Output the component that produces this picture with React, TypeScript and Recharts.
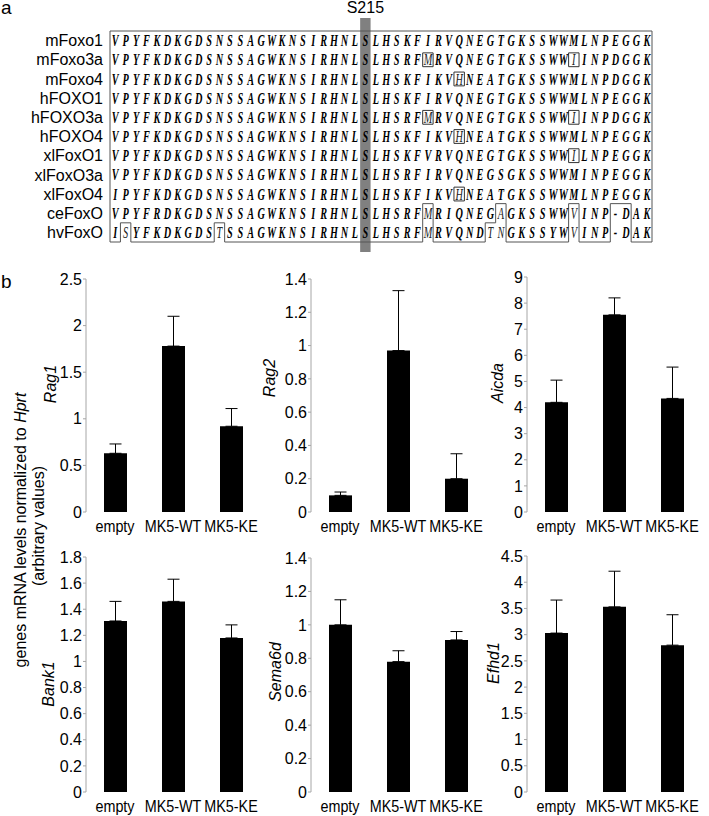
import React from 'react';
import {
  BarChart, Bar, XAxis, YAxis, ErrorBar, ScatterChart, Scatter,
  ReferenceArea, ReferenceLine, Label,
} from 'recharts';

const FONT = "'Liberation Sans', Arial, sans-serif";
const SERIF = "'Liberation Serif', 'Times New Roman', serif";

// ---------- Panel a: alignment ----------
const speciesNames = ['mFoxo1', 'mFoxo3a', 'mFoxo4', 'hFOXO1', 'hFOXO3a', 'hFOXO4', 'xlFoxO1', 'xlFoxO3a', 'xlFoxO4', 'ceFoxO', 'hvFoxO'];
const sequences = [
  'VPYFKDKGDSNSSAGWKNSIRHNLSLHSKFIRVQNEGTGKSSWWMLNPEGGK',
  'VPYFKDKGDSNSSAGWKNSIRHNLSLHSRFMRVQNEGTGKSSWWIINPDGGK',
  'VPYFKDKGDSNSSAGWKNSIRHNLSLHSKFIKVHNEATGKSSWWMLNPDGGK',
  'VPYFKDKGDSNSSAGWKNSIRHNLSLHSKFIRVQNEGTGKSSWWMLNPEGGK',
  'VPYFKDKGDSNSSAGWKNSIRHNLSLHSRFMRVQNEGTGKSSWWIINPDGGK',
  'VPYFKDKGDSNSSAGWKNSIRHNLSLHSKFIKVHNEATGKSSWWMLNPEGGK',
  'VPYFKDKGDSNSSAGWKNSIRHNLSLHSKFVRVQNEGTGKSSWWILNPEGGK',
  'VPYFKDKGDSNSSAGWKNSIRHNLSLHSRFIRVQNEGSGKSSWWMINPEGGK',
  'IPYFKDKGDSNSSAGWKNSIRHNLSLHSKFIKVHNEATGKSSWWMLNPEGGK',
  'VPYFRDKGDSNSSAGWKNSIRHNLSLHSRFMRIQNEGAGKSSWWVINP-DAK',
  'ISYFKDKGDSTSSAGWKNSIRHNLSLHSRFMRVQNDTNGKSSYWVINP-DAK',
];
// [row, column] (1-based) of boxed divergent residues
const boxedCells = [[2, 31], [2, 45], [3, 34], [5, 31], [5, 45], [6, 34], [7, 45], [9, 34]];
// residues cut out of the conserved block (bottom rows)
const excludedCells = [
  [10, 31], [10, 38], [10, 45], [10, 49], [10, 50],
  [11, 2], [11, 11], [11, 31], [11, 37], [11, 38], [11, 45], [11, 49], [11, 50],
];
const boldExcluded = [[10, 49], [10, 50], [11, 49], [11, 50]];
const highlightColumn = 25;
const highlightLabel = 'S215';

const ROWS = speciesNames.length;
const COLS = sequences[0].length;

const key = (r: number, c: number) => `${r},${c}`;
const lightSet = new Set<string>([
  ...boxedCells.map(([r, c]) => key(r, c)),
  ...excludedCells.map(([r, c]) => key(r, c)),
]);
boldExcluded.forEach(([r, c]) => lightSet.delete(key(r, c)));

const letterData = sequences.flatMap((seq, ri) =>
  seq.split('').map((ch, ci) => ({ x: ci + 1, y: ri + 1, ch, light: lightSet.has(key(ri + 1, ci + 1)) }))
);

function buildOutline() {
  const ex = new Set(excludedCells.map(([r, c]) => key(r, c)));
  const inside = (r: number, c: number) => r >= 1 && r <= ROWS && c >= 1 && c <= COLS && !ex.has(key(r, c));
  const h: [number, number, number][] = [];
  const v: [number, number, number][] = [];
  for (let r = 1; r <= ROWS; r++) {
    for (let c = 1; c <= COLS; c++) {
      if (!inside(r, c)) continue;
      if (!inside(r - 1, c)) h.push([r - 0.5, c - 0.5, c + 0.5]);
      if (!inside(r + 1, c)) h.push([r + 0.5, c - 0.5, c + 0.5]);
      if (!inside(r, c - 1)) v.push([c - 0.5, r - 0.5, r + 0.5]);
      if (!inside(r, c + 1)) v.push([c + 0.5, r - 0.5, r + 0.5]);
    }
  }
  const merge = (arr: [number, number, number][]) => {
    arr.sort((a, b) => a[0] - b[0] || a[1] - b[1]);
    const out: [number, number, number][] = [];
    arr.forEach((s) => {
      const last = out[out.length - 1];
      if (last && last[0] === s[0] && Math.abs(last[2] - s[1]) < 1e-9) last[2] = s[2];
      else out.push([s[0], s[1], s[2]]);
    });
    return out;
  };
  const segs: { x: number; y: number }[][] = [];
  merge(h).forEach(([y, a, b]) => segs.push([{ x: a, y }, { x: b, y }]));
  merge(v).forEach(([x, a, b]) => segs.push([{ x, y: a }, { x, y: b }]));
  return segs;
}
const outlineSegments = buildOutline();

const Letter = (props: any) => {
  const { cx, cy, payload } = props;
  if (cx == null || cy == null) return null;
  return (
    <text
      transform={`translate(${cx},${cy}) scale(0.64,1)`}
      textAnchor="middle"
      dy="0.35em"
      fontFamily={SERIF}
      fontStyle="italic"
      fontWeight={payload.light ? 400 : 700}
      fontSize={16}
      fill={payload.light ? '#222' : '#000'}
    >
      {payload.ch}
    </text>
  );
};

const S215Label = (props: any) => {
  const vb = props.viewBox || {};
  return (
    <text x={vb.x + vb.width / 2} y={vb.y - 5} textAnchor="middle" fontFamily={FONT} fontSize={16} fill="#000">
      {highlightLabel}
    </text>
  );
};

function Alignment() {
  return (
    <div style={{ position: 'absolute', left: 0, top: 0 }}>
      <ScatterChart width={709} height={262} margin={{ top: 31, right: 57, bottom: 20, left: 0 }}>
        <XAxis type="number" dataKey="x" domain={[0.5, COLS + 0.5]} hide />
        <YAxis
          type="number" dataKey="y" domain={[0.5, ROWS + 0.5]} reversed width={110}
          ticks={speciesNames.map((_, i) => i + 1)}
          tickFormatter={(v: number) => speciesNames[v - 1] || ''}
          axisLine={false} tickLine={false} tickSize={0} tickMargin={7} interval={0}
          tick={{ fill: '#000', fontSize: 16, fontFamily: FONT }}
        />
        <ReferenceArea
          x1={highlightColumn - 0.5} x2={highlightColumn + 0.5} y1={-0.18} y2={12.02}
          fill="#808080" fillOpacity={1} stroke="none" ifOverflow="visible"
        >
          <Label content={S215Label} />
        </ReferenceArea>
        {boxedCells.map(([r, c]) => (
          <ReferenceArea key={`b${r}-${c}`} x1={c - 0.5} x2={c + 0.5} y1={r - 0.36} y2={r + 0.36}
            fill="none" fillOpacity={0} stroke="#333" strokeWidth={1} ifOverflow="visible" />
        ))}
        {outlineSegments.map((seg, i) => (
          <ReferenceLine key={`o${i}`} segment={seg} stroke="#555" strokeWidth={1} ifOverflow="visible" />
        ))}
        <Scatter data={letterData} shape={Letter} isAnimationActive={false} />
      </ScatterChart>
    </div>
  );
}

// ---------- Panel b: bar charts ----------
const categories = ['empty', 'MK5-WT', 'MK5-KE'];

const rag1Values = [0.63, 1.78, 0.92];
const rag1Errors = [0.10, 0.32, 0.19];
const rag1Ticks = [0, 0.5, 1, 1.5, 2, 2.5];

const rag2Values = [0.10, 0.97, 0.20];
const rag2Errors = [0.02, 0.36, 0.15];
const rag2Ticks = [0, 0.2, 0.4, 0.6, 0.8, 1, 1.2, 1.4];

const aicdaValues = [4.2, 7.55, 4.35];
const aicdaErrors = [0.85, 0.65, 1.2];
const aicdaTicks = [0, 1, 2, 3, 4, 5, 6, 7, 8, 9];

const bank1Values = [1.31, 1.46, 1.18];
const bank1Errors = [0.15, 0.17, 0.10];
const bank1Ticks = [0, 0.2, 0.4, 0.6, 0.8, 1, 1.2, 1.4, 1.6, 1.8];

const sema6dValues = [1.0, 0.78, 0.91];
const sema6dErrors = [0.15, 0.065, 0.05];
const sema6dTicks = [0, 0.2, 0.4, 0.6, 0.8, 1, 1.2, 1.4];

const efhd1Values = [3.03, 3.53, 2.8];
const efhd1Errors = [0.63, 0.68, 0.58];
const efhd1Ticks = [0, 0.5, 1, 1.5, 2, 2.5, 3, 3.5, 4, 4.5];

const panels = [
  { gene: 'Rag1', values: rag1Values, errors: rag1Errors, ticks: rag1Ticks, axisX: 86, plotTop: 279, plotH: 233, labelDx: 36, labelY: 105 },
  { gene: 'Rag2', values: rag2Values, errors: rag2Errors, ticks: rag2Ticks, axisX: 311, plotTop: 279, plotH: 233, labelDx: 42, labelY: 99 },
  { gene: 'Aicda', values: aicdaValues, errors: aicdaErrors, ticks: aicdaTicks, axisX: 527, plotTop: 277, plotH: 235, labelDx: 30, labelY: 106 },
  { gene: 'Bank1', values: bank1Values, errors: bank1Errors, ticks: bank1Ticks, axisX: 86, plotTop: 557, plotH: 235, labelDx: 38, labelY: 127 },
  { gene: 'Sema6d', values: sema6dValues, errors: sema6dErrors, ticks: sema6dTicks, axisX: 311, plotTop: 558, plotH: 234, labelDx: 36, labelY: 114 },
  { gene: 'Efhd1', values: efhd1Values, errors: efhd1Errors, ticks: efhd1Ticks, axisX: 527, plotTop: 556, plotH: 236, labelDx: 34, labelY: 107 },
];

const AXIS_GRAY = '#a6a6a6';

const CategoryTick = (props: any) => {
  const { x, y, payload } = props;
  return (
    <text transform={`translate(${x},${y}) scale(0.87,1)`} textAnchor="middle" dy="0.71em"
      fontFamily={FONT} fontSize={16.5} fill="#000">
      {payload.value}
    </text>
  );
};

function Panel({ p }: { p: any }) {
  const data = categories.map((name, i) => ({ name, value: p.values[i], err: [0, p.errors[i]] }));
  const Y_W = 80, TOP = 14, BOTTOM = 32, RIGHT = 8, PLOT_W = 174;
  const width = Y_W + PLOT_W + RIGHT;
  const height = TOP + p.plotH + BOTTOM;
  const GeneLabel = (lp: any) => {
    const vb = lp.viewBox || {};
    const x = vb.x + vb.width - p.labelDx;
    const y = vb.y + p.labelY;
    return (
      <text x={x} y={y} transform={`rotate(-90 ${x} ${y})`} textAnchor="middle" dominantBaseline="central"
        fontFamily={FONT} fontStyle="italic" fontSize={16} fill="#000">{p.gene}</text>
    );
  };
  return (
    <div style={{ position: 'absolute', left: p.axisX - Y_W, top: p.plotTop - TOP }}>
      <BarChart width={width} height={height} data={data} margin={{ top: TOP, right: RIGHT, bottom: 0, left: 0 }} barSize={23}>
        <XAxis xAxisId="grid" type="number" domain={[0, 3]} ticks={[0, 1, 2, 3]} tick={false}
          tickSize={5} height={0} stroke={AXIS_GRAY} allowDataOverflow />
        <XAxis xAxisId="cat" dataKey="name" type="category" axisLine={false} tickLine={false}
          tickSize={0} tickMargin={8} height={BOTTOM} interval={0}
          tick={<CategoryTick />} />
        <YAxis width={Y_W} domain={[0, p.ticks[p.ticks.length - 1]]} ticks={p.ticks} interval={0}
          tickSize={3} tickMargin={1} stroke={AXIS_GRAY}
          tick={{ fill: '#000', fontSize: 16, fontFamily: FONT }}>
          <Label content={GeneLabel} />
        </YAxis>
        <Bar xAxisId="cat" dataKey="value" fill="#000" isAnimationActive={false}>
          <ErrorBar dataKey="err" width={6} stroke="#000" strokeWidth={1} direction="y" />
        </Bar>
      </BarChart>
    </div>
  );
}

export default function App() {
  return (
    <div style={{ position: 'absolute', left: 0, top: 0, width: 709, height: 816, background: '#fff', fontFamily: FONT }}>
      <Alignment />
      {panels.map((p) => <Panel key={p.gene} p={p} />)}
      <svg width={709} height={816} style={{ position: 'absolute', left: 0, top: 0, pointerEvents: 'none' }}>
        <text x={1} y={14} fontFamily={FONT} fontSize={19} fill="#000">a</text>
        <text x={1} y={288} fontFamily={FONT} fontSize={19} fill="#000">b</text>
        <text x={20} y={530} transform="rotate(-90 20 530)" textAnchor="middle" dominantBaseline="central"
          fontFamily={FONT} fontSize={16} fill="#000">
          genes mRNA levels normalized to <tspan fontStyle="italic">Hprt</tspan>
        </text>
        <text x={38} y={526} transform="rotate(-90 38 526)" textAnchor="middle" dominantBaseline="central"
          fontFamily={FONT} fontSize={16} fill="#000">(arbitrary values)</text>
      </svg>
    </div>
  );
}
